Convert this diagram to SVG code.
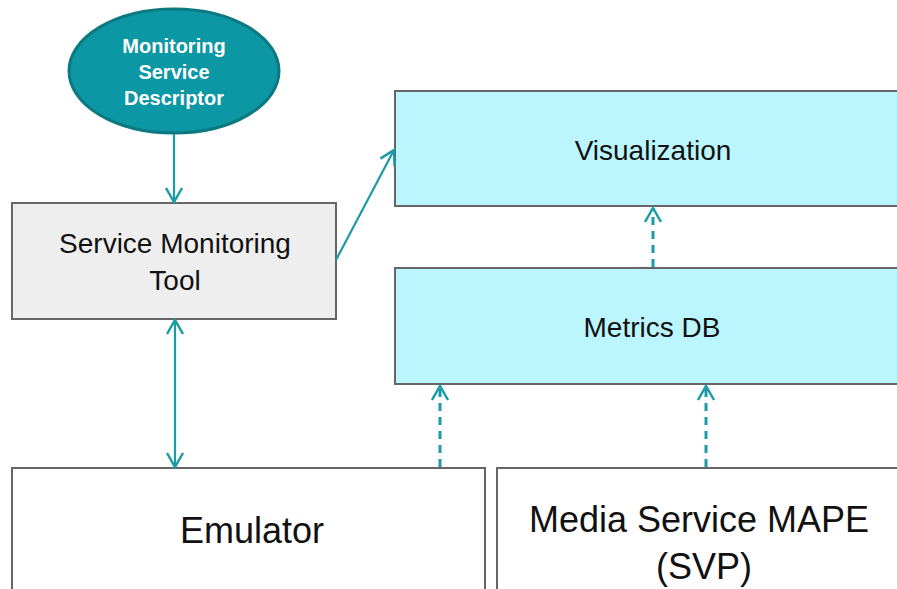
<svg xmlns="http://www.w3.org/2000/svg" width="897" height="589" viewBox="0 0 897 589">
<style>
.box{stroke:#666;stroke-width:2}
.cyan{fill:#bbf5fd}
.t{font-family:"Liberation Sans",Arial,sans-serif;fill:#111;text-anchor:middle}
.c{stroke:#1a9ba5;stroke-width:2.2;fill:none}
.d{stroke-dasharray:8,6;stroke-width:3}
</style>
<defs>
<marker id="ah" viewBox="0 0 20 20" refX="18" refY="10" markerWidth="20" markerHeight="20" markerUnits="userSpaceOnUse" orient="auto-start-reverse">
<path d="M4,2 L18,10 L4,18" fill="none" stroke="#1a9ba5" stroke-width="2.5"/>
</marker>
</defs>
<rect width="897" height="589" fill="#fff"/>
<g id="msd">
<ellipse cx="174" cy="71" rx="105" ry="62" fill="#0b97a3" stroke="#0c7880" stroke-width="3"/>
<text class="t" x="174" y="53" font-size="20" font-weight="bold" style="fill:#fff">Monitoring</text>
<text class="t" x="174" y="79" font-size="20" font-weight="bold" style="fill:#fff">Service</text>
<text class="t" x="174" y="105" font-size="20" font-weight="bold" style="fill:#fff">Descriptor</text>
</g>
<g id="smt">
<rect class="box" x="12" y="203" width="324" height="116" fill="#eeeeee"/>
<text class="t" x="175" y="253" font-size="28">Service Monitoring</text>
<text class="t" x="175" y="290" font-size="28">Tool</text>
</g>
<g id="vis">
<rect class="box cyan" x="395" y="91" width="510" height="115"/>
<text class="t" x="653" y="160" font-size="28">Visualization</text>
</g>
<g id="mdb">
<rect class="box cyan" x="395" y="268" width="510" height="116"/>
<text class="t" x="652" y="337" font-size="28">Metrics DB</text>
</g>
<g id="emu">
<rect class="box" x="12" y="468" width="473" height="130" fill="#fff"/>
<text class="t" x="252" y="543" font-size="36">Emulator</text>
</g>
<g id="mape">
<rect class="box" x="497" y="468" width="410" height="130" fill="#fff"/>
<text class="t" x="699" y="532" font-size="36">Media Service MAPE</text>
<text class="t" x="704" y="579" font-size="36">(SVP)</text>
</g>
<g id="connectors">
<line class="c" x1="174" y1="134" x2="174" y2="202" marker-end="url(#ah)"/>
<line class="c" x1="336" y1="260" x2="394" y2="150" marker-end="url(#ah)"/>
<line class="c" x1="175" y1="320" x2="175" y2="467" marker-start="url(#ah)" marker-end="url(#ah)"/>
<line class="c d" x1="440" y1="467" x2="440" y2="386" marker-end="url(#ah)"/>
<line class="c d" x1="706" y1="467" x2="706" y2="386" marker-end="url(#ah)"/>
<line class="c d" x1="653" y1="267" x2="653" y2="208" marker-end="url(#ah)"/>
</g>
</svg>
